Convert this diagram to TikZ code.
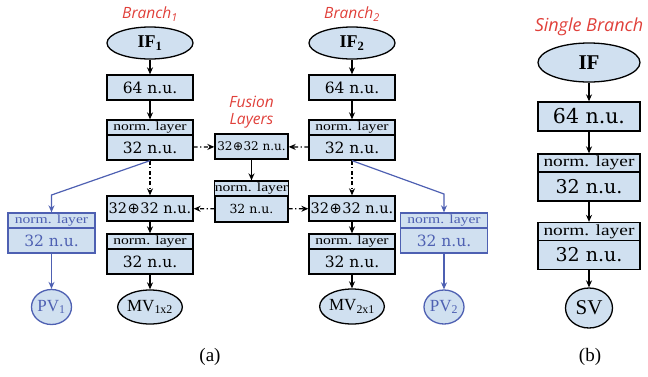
\documentclass[tikz,border=0pt]{standalone}
\usepackage{fontspec}
\setmainfont{Liberation Serif}
\newfontfamily\numfont{DejaVu Serif}
\newfontfamily\symfont{DejaVu Sans}
\newfontfamily\normfont[FakeStretch=1.25]{Liberation Serif}
\newfontfamily\labfont{Open Sans}
\usepackage{tikz}
\usetikzlibrary{arrows.meta}
\usetikzlibrary{shapes.geometric}

\definecolor{boxblue}{RGB}{208,224,240}
\definecolor{lineblue}{RGB}{78,96,178}
\definecolor{labred}{RGB}{224,64,58}

\newcommand{\opl}{\kern0.5pt{\symfont ⊕}\kern0.5pt}

\tikzset{
  unit/.style={draw, fill=boxblue, line width=1.3pt, inner sep=0pt,
    minimum width=86pt, minimum height=25pt,
    font=\numfont\fontsize{15.5}{16}\selectfont},
  hdr/.style={unit, minimum height=15pt, font=\normfont\fontsize{12.5}{12}\selectfont},
  ell/.style={draw, fill=boxblue, ellipse, line width=1.3pt, inner sep=0pt},
  blue/.style={draw=lineblue, text=lineblue},
  lab/.style={text=labred, font=\labfont\itshape\fontsize{15.5}{17}\selectfont, align=center},
  arr/.style={-{Stealth[length=7pt,width=6pt]}, line width=1.2pt},
  dd/.style={arr, dash pattern=on 4pt off 2.5pt on 1.2pt off 2.5pt},
}

\begin{document}
\begin{tikzpicture}[x=1pt,y=-1pt]
\useasboundingbox (0,0) rectangle (648,376);

% 分支1
\node[lab] (t1) at (150,14) {Branch\textsubscript{1}};
\node[ell, minimum width=86pt, minimum height=32pt, font=\bfseries\fontsize{18}{18}\selectfont] (if1) at (150,43) {IF\textsubscript{1}};
\node[unit] (n1) at (150,87.5) {64 n.u.};
\node[hdr] (h1) at (150,127.5) {norm. layer};
\node[unit] (c1) at (150,147.5) {32 n.u.};
\node[unit, font=\numfont\fontsize{14.5}{16}\selectfont] (p1) at (150,208.5) {32\opl32 n.u.};
\node[hdr] (h1b) at (150,241.5) {norm. layer};
\node[unit] (c1b) at (150,261.5) {32 n.u.};
\node[ell, minimum width=47pt, minimum height=34pt, font=\fontsize{17}{17}\selectfont] (mv1) at (150,307) {MV\textsubscript{1x2}};

% 分支2
\node[lab] (t2) at (352,14) {Branch\textsubscript{2}};
\node[ell, minimum width=86pt, minimum height=32pt, font=\bfseries\fontsize{18}{18}\selectfont] (if2) at (352,43) {IF\textsubscript{2}};
\node[unit] (n2) at (352,87.5) {64 n.u.};
\node[hdr] (h2) at (352,127.5) {norm. layer};
\node[unit] (c2) at (352,147.5) {32 n.u.};
\node[unit, font=\numfont\fontsize{14.5}{16}\selectfont] (p2) at (352,208.5) {32\opl32 n.u.};
\node[hdr] (h2b) at (352,241.5) {norm. layer};
\node[unit] (c2b) at (352,261.5) {32 n.u.};
\node[ell, minimum width=48pt, minimum height=35pt, font=\fontsize{17}{17}\selectfont] (mv2) at (352,306.5) {MV\textsubscript{2x1}};

% 融合层
\node[lab] (tf) at (251.5,112) {Fusion\\Layers};
\node[unit, minimum width=73pt, font=\numfont\fontsize{12}{12}\selectfont] (fa) at (251.5,146.5) {32\opl32 n.u.};
\node[hdr, minimum width=73pt] (fh) at (251.5,188.5) {norm. layer};
\node[unit, minimum width=73pt, minimum height=26pt, font=\numfont\fontsize{12.5}{12}\selectfont] (fc) at (251.5,209) {32 n.u.};

% 单独输出(蓝色)
\node[hdr, blue, minimum width=87pt] (lh) at (51.5,220.5) {norm. layer};
\node[unit, blue, minimum width=87pt] (lc) at (51.5,240.5) {32 n.u.};
\node[ell, blue, minimum width=40pt, minimum height=35pt, font=\fontsize{17}{17}\selectfont] (pv1) at (51.5,307) {PV\textsubscript{1}};
\node[hdr, blue, minimum width=87pt] (rh) at (444,220.5) {norm. layer};
\node[unit, blue, minimum width=87pt] (rc) at (444,240.5) {32 n.u.};
\node[ell, blue, minimum width=40pt, minimum height=34pt, font=\fontsize{17}{17}\selectfont] (pv2) at (444,307) {PV\textsubscript{2}};
\coordinate (k1) at (51.5,195);
\coordinate (k2) at (444,194);

% 单分支
\node[lab, font=\labfont\itshape\fontsize{18}{18}\selectfont] (ts) at (589,27) {Single Branch};
\node[ell, minimum width=102pt, minimum height=39pt, font=\bfseries\fontsize{21}{21}\selectfont] (ifs) at (589,62.5) {IF};
\node[unit, minimum width=102pt, minimum height=29pt, font=\numfont\fontsize{20.5}{20}\selectfont] (ns) at (589,116.5) {64 n.u.};
\node[hdr, minimum width=102pt, minimum height=18pt, font=\normfont\fontsize{15.5}{15}\selectfont] (hs1) at (589,163) {norm. layer};
\node[unit, minimum width=102pt, minimum height=29pt, font=\numfont\fontsize{19}{18}\selectfont] (cs1) at (589,186.5) {32 n.u.};
\node[hdr, minimum width=102pt, minimum height=18pt, font=\normfont\fontsize{15.5}{15}\selectfont] (hs2) at (589,231.5) {norm. layer};
\node[unit, minimum width=102pt, minimum height=29pt, font=\numfont\fontsize{19}{18}\selectfont] (cs2) at (589,255) {32 n.u.};
\node[ell, minimum width=47pt, minimum height=40pt, font=\fontsize{21}{21}\selectfont] (sv) at (589,308) {SV};

% 子图标号
\node[font=\fontsize{19}{19}\selectfont] (la) at (210,357) {(a)};
\node[font=\fontsize{19}{19}\selectfont] (lb) at (590,357) {(b)};

% 连线
\draw[arr] (if1) -- (n1);
\draw[arr] (n1) -- (h1);
\draw[dd] (c1) -- (p1);
\draw[arr] (p1) -- (h1b);
\draw[arr] (c1b) -- (mv1);
\draw[arr] (if2) -- (n2);
\draw[arr] (n2) -- (h2);
\draw[dd] (c2) -- (p2);
\draw[arr] (p2) -- (h2b);
\draw[arr] (c2b) -- (mv2);
\draw[dd] (c1) -- (fa);
\draw[dd] (c2) -- (fa);
\draw[arr] (fa) -- (fh);
\draw[dd] (fc) -- (p1);
\draw[dd] (fc) -- (p2);
\draw[arr, lineblue] (c1.south) -- (k1) -- (lh);
\draw[arr, lineblue] (lc) -- (pv1);
\draw[arr, lineblue] (c2.south) -- (k2) -- (rh);
\draw[arr, lineblue] (rc) -- (pv2);
\draw[arr] (ifs) -- (ns);
\draw[arr] (ns) -- (hs1);
\draw[arr] (cs1) -- (hs2);
\draw[arr] (cs2) -- (sv);

\end{tikzpicture}
\end{document}
